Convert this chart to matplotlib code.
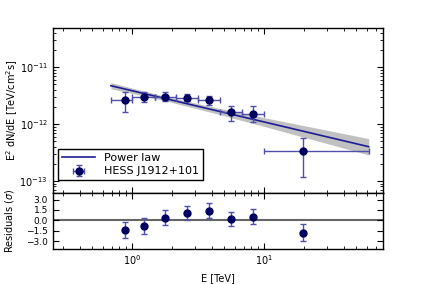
import numpy as np
import matplotlib
matplotlib.use('Agg')
import matplotlib.pyplot as plt
from matplotlib.ticker import LogLocator, NullFormatter, FixedLocator

plt.rcParams['font.size'] = 7
plt.rcParams['xtick.direction'] = 'in'
plt.rcParams['ytick.direction'] = 'in'
plt.rcParams['xtick.top'] = True
plt.rcParams['ytick.right'] = True
plt.rcParams['xtick.major.size'] = 4
plt.rcParams['ytick.major.size'] = 4
plt.rcParams['xtick.minor.size'] = 2
plt.rcParams['ytick.minor.size'] = 2
plt.rcParams['axes.linewidth'] = 1.0

# ============================== DATA ============================== #

# flux points (E^2 dN/dE)
energy = [0.88, 1.23, 1.77, 2.61, 3.81, 5.62, 8.17, 19.6]
e_lo = [0.69, 1.00, 1.49, 2.15, 3.15, 4.65, 6.85, 10.0]
e_hi = [1.00, 1.49, 2.15, 3.15, 4.65, 6.85, 10.0, 62.0]
flux = [2.65e-12, 3.00e-12, 3.04e-12, 2.88e-12, 2.65e-12, 1.63e-12, 1.52e-12, 3.4e-13]
flux_hi = [3.63e-12, 3.63e-12, 3.60e-12, 3.43e-12, 3.16e-12, 2.10e-12, 2.06e-12, 5.74e-13]
flux_lo = [1.61e-12, 2.47e-12, 2.60e-12, 2.50e-12, 2.18e-12, 1.15e-12, 1.08e-12, 1.17e-13]

# power law model and its butterfly
model_e = [0.69, 62.0]
model_flux = [4.74e-12, 4.0e-13]
band_e = [0.69, 1.0, 1.8, 4.0, 10.0, 25.0, 62.0]
band_lo = [4.18e-12, 3.48e-12, 2.55e-12, 1.60e-12, 9.1e-13, 5.1e-13, 2.86e-13]
band_hi = [5.37e-12, 4.30e-12, 3.07e-12, 2.03e-12, 1.30e-12, 8.47e-13, 5.56e-13]

# residuals in sigma
resid = [-1.40, -0.82, 0.39, 1.07, 1.40, 0.20, 0.53, -1.79]
resid_err = [1.09, 1.16, 1.10, 1.07, 1.09, 1.06, 1.05, 1.21]

res_ticks = [-3.0, -1.5, 0.0, 1.5, 3.0]

# ============================== PLOT ============================== #

pt_color = '#000060'
line_color = '#1c1c96'
err_color = '#5050aa'

fig = plt.figure(figsize=(4.26, 2.84), dpi=100)
ax = fig.add_axes([0.1237, 0.3215, 0.7761, 0.5789])
axr = fig.add_axes([0.1237, 0.1243, 0.7761, 0.1972], sharex=ax)

e = np.array(energy)
f = np.array(flux)
xerr = [e - np.array(e_lo), np.array(e_hi) - e]
yerr = [f - np.array(flux_lo), np.array(flux_hi) - f]

ax.fill_between(band_e, band_lo, band_hi, color='#bbbbbb', alpha=0.9, lw=0, zorder=1)
ax.plot(model_e, model_flux, color=line_color, lw=1.2, label='Power law', zorder=2)
ax.errorbar(e, f, xerr=xerr, yerr=yerr, fmt='o', color=pt_color, ms=5,
            ecolor=err_color, elinewidth=1.0, capsize=2.5, capthick=1.0,
            label='HESS J1912+101', zorder=3)

ax.set_xscale('log')
ax.set_yscale('log')
ax.set_xlim(0.25, 80)
ax.set_ylim(6.2e-14, 4.86e-11)
ax.set_ylabel('E$^2$ dN/dE [TeV/cm$^2$s]')
ax.tick_params(labelbottom=False)
ax.yaxis.set_minor_locator(LogLocator(base=10, subs=np.arange(2, 10), numticks=20))
ax.yaxis.set_minor_formatter(NullFormatter())

lgd = ax.legend(loc='lower left', bbox_to_anchor=(0.016, 0.075), borderaxespad=0,
                fontsize=8, fancybox=False, edgecolor='black', framealpha=1,
                handlelength=3, borderpad=0.35, labelspacing=0.35)
lgd.get_frame().set_linewidth(1.0)

axr.axhline(0, color='#666666', lw=1.5, zorder=1)
axr.errorbar(e, resid, yerr=resid_err, fmt='o', color=pt_color, ms=5,
             ecolor=err_color, elinewidth=1.0, capsize=2.5, capthick=1.0, zorder=3)
axr.set_ylim(-4.1, 4.0)
axr.yaxis.set_major_locator(FixedLocator(res_ticks))
axr.set_yticklabels([f'{t:.1f}'.replace('-', '\u2212') for t in res_ticks])
axr.tick_params(axis='y', labelsize=6.5)
axr.set_xlabel('E [TeV]')
axr.set_ylabel(r'Residuals ($\sigma$)')

ax.yaxis.set_label_coords(-0.1, 0.5)
axr.yaxis.set_label_coords(-0.11, 0.5)

fig.savefig('out.png', dpi=100)
